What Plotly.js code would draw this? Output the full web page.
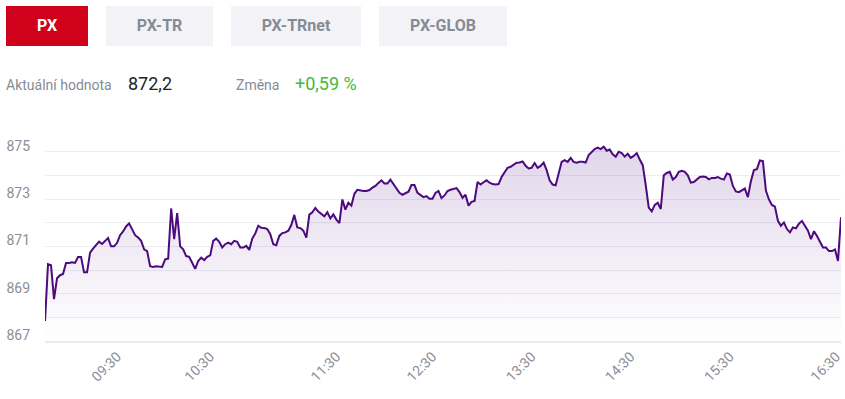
<!DOCTYPE html>
<html>
<head>
<meta charset="utf-8">
<script src="https://cdn.plot.ly/plotly-3.0.1.min.js"></script>
<style>
  html, body { margin:0; padding:0; background:#fff; width:845px; height:399px; overflow:hidden; font-family: Roboto, "Noto Sans", sans-serif; }
  .btn { position:absolute; top:6px; height:40px; line-height:40px; text-align:center; font-weight:700; font-size:16px; background:#f3f3f7; color:#868b95; }
  .btn.active { background:#d0021b; color:#fff; }
  .lbl { position:absolute; top:74px; height:22px; line-height:22px; font-size:14px; color:#868b95; }
  .val { position:absolute; top:73px; height:22px; line-height:22px; font-size:18px; }
  #chart { position:absolute; left:0; top:0; width:845px; height:399px; }
  #hdr { position:absolute; left:0; top:0; width:845px; height:110px; z-index:2; }
</style>
</head>
<body>
<div id="chart"></div>
<div id="hdr"></div>
<script>
// ---- data ----
const tabs = ["PX", "PX-TR", "PX-TRnet", "PX-GLOB"];
const currentLabel = "Aktuální hodnota";
const currentValue = "872,2";
const changeLabel = "Změna";
const changeValue = "+0,59 %";

const pxValues = [
  867.85, 870.25, 870.2, 868.77, 869.65, 869.78, 869.83, 870.3, 870.3, 870.33,
  870.3, 870.55, 870.55, 869.9, 869.9, 870.73, 870.9, 871.05, 871.2, 871.1,
  871.23, 871.35, 871.0, 871.0, 871.15, 871.47, 871.63, 871.84, 871.97, 871.75,
  871.47, 871.37, 871.23, 870.87, 870.8, 870.16, 870.13, 870.16, 870.16, 870.13,
  870.45, 870.48,
  872.6, 871.3, 872.4, 871.0, 870.87, 870.59, 870.56, 870.28, 870.05, 870.38,
  870.52, 870.42, 870.56, 870.62, 871.23, 871.33, 871.19, 870.95, 871.09, 871.16,
  871.09, 871.23, 871.19, 870.95, 870.95, 871.02, 870.85, 871.33, 871.54, 871.87,
  871.78, 871.77, 871.73, 871.51, 871.09, 871.05, 871.44, 871.56, 871.59, 871.66,
  871.9, 872.33, 871.8, 871.77, 871.66, 871.37, 872.34, 872.44,
  872.62, 872.47, 872.35, 872.27, 872.44, 872.18, 872.35, 872.13, 871.98, 872.98,
  872.55, 872.84, 872.72, 873.22, 873.39, 873.36, 873.34, 873.34, 873.38, 873.48,
  873.55, 873.68, 873.79, 873.66, 873.66, 873.82, 873.65, 873.44, 873.26, 873.18,
  873.26, 873.31, 873.59, 873.59, 873.26, 873.18, 873.08, 873.12, 873.01, 873.01,
  873.26, 873.34, 873.04, 873.15, 873.34,
  873.39, 873.42, 873.46, 873.29, 873.05, 873.18, 872.72, 872.88, 872.92, 873.72,
  873.61, 873.71, 873.79, 873.69, 873.63, 873.61, 873.63, 873.93, 874.12, 874.32,
  874.36, 874.46, 874.53, 874.54, 874.59, 874.40, 874.29, 874.32, 874.52, 874.32,
  874.40, 874.54, 874.22, 873.79, 873.61, 873.58, 874.08, 874.57, 874.64, 874.57,
  874.74, 874.57, 874.53, 874.57,
  874.57, 874.54, 874.86, 874.99, 875.11, 875.17, 875.11, 875.21, 875.04, 875.09,
  874.89, 874.79, 875.0, 874.94, 874.79, 874.91, 874.74, 874.82, 874.94, 874.67,
  874.43, 873.58, 872.64, 872.48, 872.75, 872.84, 872.58, 874.0, 874.10, 874.15,
  873.82, 873.93, 874.15, 874.19, 874.15, 874.0, 873.69, 873.72, 873.83, 873.93,
  873.95, 873.93, 873.83, 873.89,
  873.89, 873.93, 873.86, 873.82, 874.08, 874.03, 873.55, 873.32, 873.29, 873.36,
  873.44, 873.08, 873.75, 874.22, 874.26, 874.63, 874.60, 873.36, 872.98, 872.75,
  872.68, 872.08, 871.87, 872.01, 871.73, 871.59, 871.80, 871.76, 871.96, 872.07,
  871.87, 871.66, 871.30, 871.64, 871.44, 871.19, 870.95, 870.95, 870.80, 870.80,
  870.87, 870.38, 872.23
];
// positions (sample index) of the time labels on the ordinal x axis
const timeTickIndex = [24, 55, 97, 129, 162, 195, 228, 263.4];
const timeTickLabels = ["09:30", "10:30", "11:30", "12:30", "13:30", "14:30", "15:30", "16:30"];
const yTickVals = [867, 868, 869, 870, 871, 872, 873, 874, 875, 876];
const yTickText = ["867", "", "869", "", "871", "", "873", "", "875", ""];

// ---- header ----
const hdr = document.getElementById('hdr');
const btnPos = [[6, 82], [106, 107], [231, 130], [379, 128]];
tabs.forEach((t, i) => {
  const d = document.createElement('div');
  d.className = 'btn' + (i === 0 ? ' active' : '');
  d.style.left = btnPos[i][0] + 'px';
  d.style.width = btnPos[i][1] + 'px';
  d.textContent = t;
  hdr.appendChild(d);
});
function addText(cls, left, text, color) {
  const d = document.createElement('div');
  d.className = cls; d.style.left = left + 'px'; d.textContent = text;
  if (color) d.style.color = color;
  hdr.appendChild(d);
}
addText('lbl', 6, currentLabel);
addText('val', 128, currentValue, '#222');
addText('lbl', 236, changeLabel);
addText('val', 295, changeValue, '#3dbb3d');

// ---- chart ----
const xIdx = pxValues.map((_, i) => i);
const trace = {
  x: xIdx, y: pxValues, type: 'scatter', mode: 'lines',
  line: { color: '#4b0a7d', width: 2 },
  fill: 'tozeroy',
  fillgradient: {
    type: 'vertical', start: 867, stop: 876,
    colorscale: [[0, 'rgba(90,30,140,0.0)'], [1, 'rgba(90,30,140,0.2)']]
  },
  hoverinfo: 'skip'
};
const layout = {
  width: 845, height: 399,
  margin: { l: 45, r: 4, t: 128, b: 58 },
  paper_bgcolor: 'rgba(0,0,0,0)', plot_bgcolor: 'rgba(0,0,0,0)',
  showlegend: false,
  font: { family: 'Roboto, "Noto Sans", sans-serif', color: '#8a8e98' },
  xaxis: {
    range: [0, pxValues.length - 1], showgrid: false, zeroline: false,
    showline: true, linecolor: '#e8e9f1', linewidth: 2,
    tickmode: 'array', tickvals: timeTickIndex, ticktext: timeTickLabels,
    tickangle: -45, ticks: '', tickfont: { size: 14, color: '#8a8e98' },
    ticklabeloverflow: 'allow', automargin: false,
    fixedrange: true
  },
  yaxis: {
    range: [867, 876], tickmode: 'array', tickvals: yTickVals, ticktext: yTickText,
    showgrid: true, gridcolor: '#ececf1', gridwidth: 1, zeroline: false,
    showline: false, ticks: '', tickfont: { size: 14, color: '#8a8e98' },
    ticklabelstandoff: 14, ticklabelshift: -6, fixedrange: true
  }
};
Plotly.newPlot('chart', [trace], layout, { displayModeBar: false, staticPlot: true });
</script>
</body>
</html>
